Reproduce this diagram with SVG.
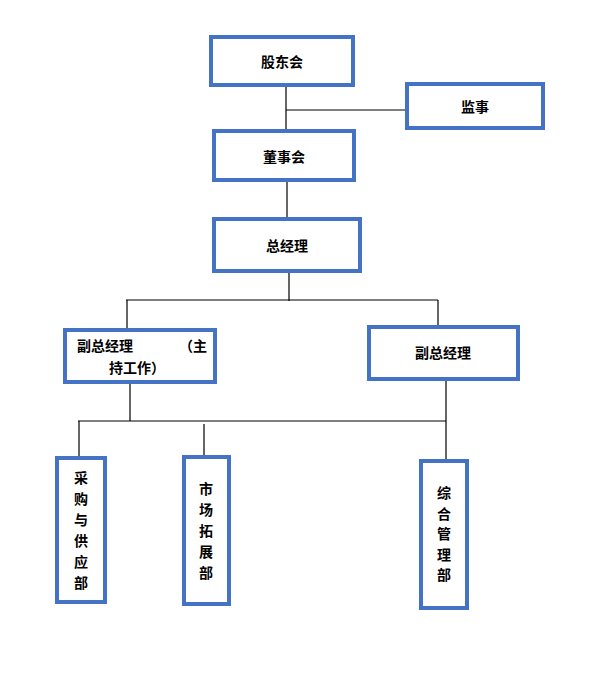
<svg xmlns="http://www.w3.org/2000/svg" width="605" height="683" viewBox="0 0 605 683">
<style>
.box{fill:#fff;stroke:#4472C4;stroke-width:4}
.t{font-family:"Noto Sans CJK SC","Liberation Sans",sans-serif;font-size:14px;font-weight:bold;fill:#000;text-anchor:middle;dominant-baseline:central}
.c{stroke:#000;stroke-width:1.2;fill:none}
</style>
<rect width="605" height="683" fill="#fff"/>
<g id="connectors">
<path class="c" d="M286 87V129M286 110H405"/>
<path class="c" d="M287 182V218"/>
<path class="c" d="M289 273V301M126 300H438M127 300V328M438 300V326"/>
<path class="c" d="M130 384V421M78 421H446M446 381V460M79 421V457M204 424V456"/>
</g>
<g id="n1"><rect class="box" x="211" y="37" width="142" height="48"/><text class="t" x="282" y="61">股东会</text></g>
<g id="n2"><rect class="box" x="407" y="84" width="136" height="44"/><text class="t" x="475" y="106">监事</text></g>
<g id="n3"><rect class="box" x="214" y="131" width="140" height="49"/><text class="t" x="284" y="156">董事会</text></g>
<g id="n4"><rect class="box" x="214" y="219" width="146" height="52"/><text class="t" x="287" y="245">总经理</text></g>
<g id="n5"><rect class="box" x="65" y="330" width="150" height="52"/><text class="t" x="105" y="345">副总经理</text><text class="t" x="193" y="345">（主</text><text class="t" x="137" y="367">持工作）</text></g>
<g id="n6"><rect class="box" x="369" y="327" width="149" height="52"/><text class="t" x="443" y="352">副总经理</text></g>
<g id="n7"><rect class="box" x="57" y="458" width="48" height="144"/><text class="t" x="81" y="477">采</text><text class="t" x="81" y="498">购</text><text class="t" x="81" y="519">与</text><text class="t" x="81" y="540">供</text><text class="t" x="81" y="561">应</text><text class="t" x="81" y="582">部</text></g>
<g id="n8"><rect class="box" x="184" y="457" width="45" height="147"/><text class="t" x="206" y="488">市</text><text class="t" x="206" y="509">场</text><text class="t" x="206" y="530">拓</text><text class="t" x="206" y="551">展</text><text class="t" x="206" y="572">部</text></g>
<g id="n9"><rect class="box" x="421" y="461" width="46" height="147"/><text class="t" x="444" y="492">综</text><text class="t" x="444" y="513">合</text><text class="t" x="444" y="533">管</text><text class="t" x="444" y="554">理</text><text class="t" x="444" y="574">部</text></g>
</svg>
